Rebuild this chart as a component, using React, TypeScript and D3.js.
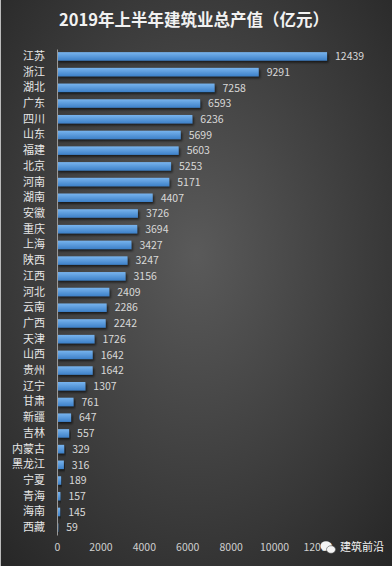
import React, { useEffect, useRef } from "react";
import * as d3 from "d3";

// 2019 H1 construction output by province (亿元)
const provinces = [
  "江苏", "浙江", "湖北", "广东", "四川", "山东", "福建", "北京", "河南", "湖南",
  "安徽", "重庆", "上海", "陕西", "江西", "河北", "云南", "广西", "天津", "山西",
  "贵州", "辽宁", "甘肃", "新疆", "吉林", "内蒙古", "黑龙江", "宁夏", "青海", "海南", "西藏",
];
const values = [
  12439, 9291, 7258, 6593, 6236, 5699, 5603, 5253, 5171, 4407,
  3726, 3694, 3427, 3247, 3156, 2409, 2286, 2242, 1726, 1642,
  1642, 1307, 761, 647, 557, 329, 316, 189, 157, 145, 59,
];
const xTicks = [0, 2000, 4000, 6000, 8000, 10000, 12000];

const W = 392;
const H = 566;
const FONT = "'Noto Sans CJK SC', 'Noto Sans', sans-serif";

const App = () => {
  const svgRef = useRef<SVGSVGElement>(null);

  useEffect(() => {
    document.body.style.margin = "0";
    const svg = d3.select(svgRef.current);
    svg.selectAll("*").remove();
    svg.attr("width", W).attr("height", H);

    const defs = svg.append("defs");
    const bg = defs
      .append("radialGradient")
      .attr("id", "bg")
      .attr("cx", "50%")
      .attr("cy", "45%")
      .attr("r", "75%");
    bg.append("stop").attr("offset", "0%").attr("stop-color", "#5a5a5a");
    bg.append("stop").attr("offset", "100%").attr("stop-color", "#262626");

    const barGrad = defs
      .append("linearGradient")
      .attr("id", "bar")
      .attr("x1", 0)
      .attr("y1", 0)
      .attr("x2", 0)
      .attr("y2", 1);
    barGrad.append("stop").attr("offset", "0%").attr("stop-color", "#78b4ee");
    barGrad.append("stop").attr("offset", "100%").attr("stop-color", "#3d80c8");

    const shadow = defs.append("filter").attr("id", "shadow").attr("x", "-5%").attr("y", "-50%").attr("width", "120%").attr("height", "250%");
    shadow
      .append("feDropShadow")
      .attr("dx", 1.5)
      .attr("dy", 2)
      .attr("stdDeviation", 1.2)
      .attr("flood-color", "#000")
      .attr("flood-opacity", 0.6);

    // background
    svg.append("rect").attr("width", W).attr("height", H).attr("fill", "url(#bg)");
    svg.append("line").attr("x1", 0.5).attr("x2", 0.5).attr("y1", 0).attr("y2", H).attr("stroke", "#bbb").attr("stroke-width", 1);

    // title
    svg
      .append("text")
      .attr("x", W / 2 - 2)
      .attr("y", 26)
      .attr("text-anchor", "middle")
      .style("font-family", FONT)
      .style("font-size", "16.5px")
      .style("font-weight", "bold")
      .style("fill", "#f2f2f2")
      .text("2019年上半年建筑业总产值（亿元）");

    // scales
    const x = d3.scaleLinear().domain([0, 12000]).range([57, 317.5]);
    const y = d3
      .scaleBand()
      .domain(provinces)
      .range([49, 535])
      .paddingInner(0.46)
      .paddingOuter(0.2);

    const g = svg.append("g");

    // bars
    g.selectAll(".bar")
      .data(values)
      .enter()
      .append("rect")
      .attr("class", "bar")
      .attr("x", x(0))
      .attr("y", (d, i) => y(provinces[i])!)
      .attr("width", (d) => x(d) - x(0))
      .attr("height", y.bandwidth())
      .attr("fill", "url(#bar)")
      .attr("filter", "url(#shadow)");

    // value labels
    g.selectAll(".val")
      .data(values)
      .enter()
      .append("text")
      .attr("x", (d) => x(d) + 8)
      .attr("y", (d, i) => y(provinces[i])! + y.bandwidth() / 2)
      .attr("dy", "0.36em")
      .style("font-family", FONT)
      .style("font-size", "10.5px")
      .style("fill", "#d9d9d9")
      .text((d) => d);

    // category axis
    const yAxis = svg
      .append("g")
      .attr("transform", `translate(${x(0)},0)`)
      .call(d3.axisLeft(y).tickSize(0).tickPadding(12));
    yAxis.select(".domain").attr("stroke", "#9a9a9a").attr("stroke-width", 1);
    yAxis
      .selectAll("text")
      .style("font-family", FONT)
      .style("font-size", "11px")
      .style("fill", "#e6e6e6");

    // value axis
    const xAxis = svg
      .append("g")
      .attr("transform", "translate(0,540)")
      .call(d3.axisBottom(x).tickValues(xTicks).tickFormat(d3.format("d")).tickSize(0).tickPadding(4));
    xAxis.select(".domain").remove();
    xAxis
      .selectAll("text")
      .style("font-family", FONT)
      .style("font-size", "10.5px")
      .style("fill", "#cfcfcf");

    // watermark
    const wm = svg.append("g").attr("transform", "translate(326,547)");
    wm.append("ellipse").attr("cx", 0).attr("cy", -1).attr("rx", 5.5).attr("ry", 4.8).attr("fill", "#f4f4f4");
    wm.append("ellipse").attr("cx", 5).attr("cy", 2.5).attr("rx", 4.5).attr("ry", 3.8).attr("fill", "#f4f4f4").attr("stroke", "#555").attr("stroke-width", 0.6);
    wm.append("text")
      .attr("x", 14)
      .attr("y", 4)
      .style("font-family", FONT)
      .style("font-size", "11px")
      .style("fill", "#f4f4f4")
      .text("建筑前沿");
  }, []);

  return <svg ref={svgRef}></svg>;
};

export default App;
